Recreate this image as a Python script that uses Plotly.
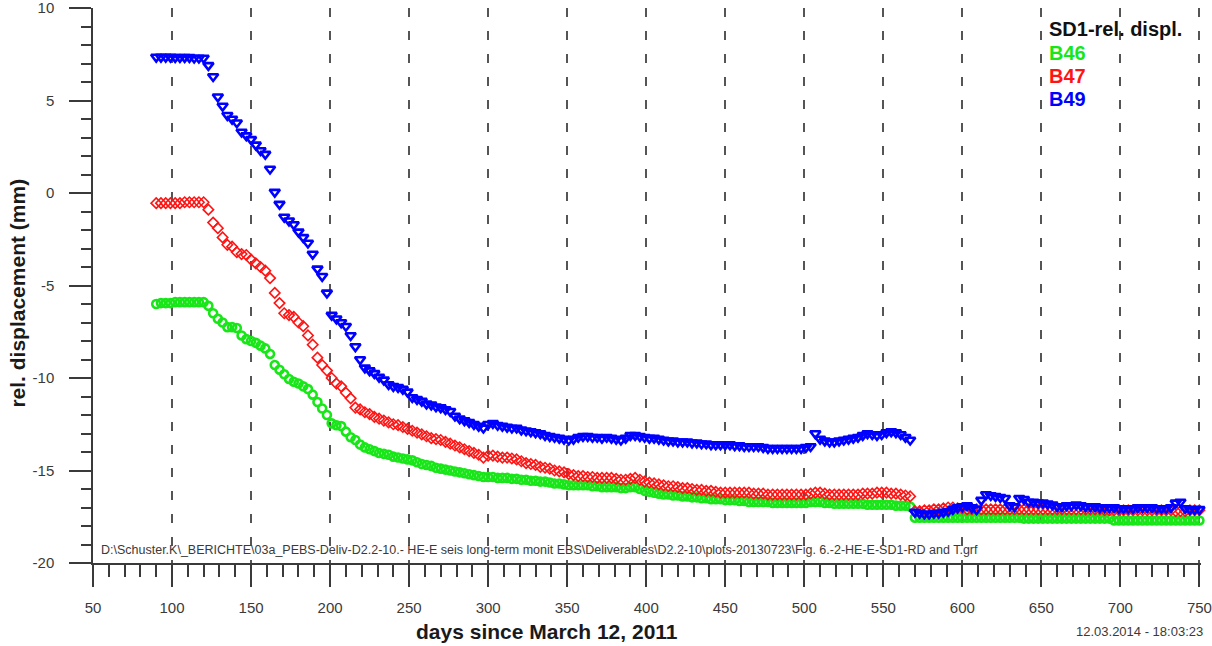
import plotly.graph_objects as go

# Measurement days (days since March 12, 2011), sampled every 3 days
DAYS = list(range(90, 751, 3))

# Relative displacement (mm) per borehole sensor
B46 = [
    -6.00, -5.95, -5.95, -5.95, -5.90, -5.90, -5.90, -5.90, -5.90, -5.90,
    -5.90, -6.10, -6.50, -6.80, -7.00, -7.25, -7.25, -7.30, -7.70, -7.90,
    -8.00, -8.10, -8.25, -8.40, -8.70, -9.30, -9.55, -9.80, -10.05, -10.20,
    -10.30, -10.45, -10.60, -10.90, -11.30, -11.65, -12.00, -12.45, -12.55, -12.60,
    -12.90, -13.20, -13.35, -13.60, -13.75, -13.85, -13.95, -14.05, -14.10, -14.15,
    -14.25, -14.30, -14.35, -14.40, -14.45, -14.55, -14.65, -14.70, -14.75, -14.85,
    -14.90, -14.95, -15.00, -15.05, -15.10, -15.15, -15.20, -15.25, -15.30, -15.35,
    -15.35, -15.35, -15.40, -15.40, -15.40, -15.45, -15.45, -15.50, -15.50, -15.55,
    -15.55, -15.60, -15.60, -15.65, -15.70, -15.70, -15.75, -15.80, -15.80, -15.80,
    -15.80, -15.80, -15.85, -15.85, -15.90, -15.90, -15.90, -15.90, -15.95, -15.95,
    -15.90, -15.90, -16.00, -16.10, -16.15, -16.20, -16.25, -16.30, -16.30, -16.35,
    -16.35, -16.40, -16.40, -16.45, -16.45, -16.50, -16.50, -16.55, -16.55, -16.55,
    -16.60, -16.60, -16.60, -16.65, -16.65, -16.70, -16.70, -16.70, -16.70, -16.70,
    -16.75, -16.75, -16.75, -16.75, -16.75, -16.75, -16.75, -16.75, -16.70, -16.70,
    -16.70, -16.75, -16.75, -16.80, -16.80, -16.80, -16.80, -16.80, -16.80, -16.80,
    -16.85, -16.85, -16.85, -16.85, -16.85, -16.85, -16.90, -16.90, -16.90, -16.95,
    -17.55, -17.55, -17.55, -17.55, -17.55, -17.55, -17.55, -17.55, -17.55, -17.55,
    -17.55, -17.55, -17.55, -17.55, -17.55, -17.55, -17.55, -17.55, -17.55, -17.55,
    -17.55, -17.55, -17.55, -17.60, -17.60, -17.60, -17.60, -17.60, -17.60, -17.60,
    -17.60, -17.60, -17.60, -17.60, -17.60, -17.60, -17.60, -17.60, -17.60, -17.60,
    -17.60, -17.60, -17.70, -17.70, -17.70, -17.70, -17.70, -17.70, -17.70, -17.70,
    -17.70, -17.70, -17.70, -17.70, -17.70, -17.70, -17.70, -17.70, -17.70, -17.70,
    -17.70,
]

B47 = [
    -0.55, -0.55, -0.55, -0.55, -0.55, -0.55, -0.50, -0.50, -0.50, -0.50,
    -0.50, -0.90, -1.60, -1.90, -2.40, -2.80, -2.90, -3.20, -3.30, -3.35,
    -3.60, -3.80, -4.00, -4.20, -4.60, -5.40, -5.95, -6.50, -6.60, -6.70,
    -7.00, -7.20, -7.70, -8.20, -8.90, -9.30, -9.60, -10.00, -10.30, -10.45,
    -10.80, -11.10, -11.60, -11.70, -11.85, -11.95, -12.10, -12.20, -12.30, -12.40,
    -12.50, -12.55, -12.65, -12.75, -12.85, -12.95, -13.05, -13.15, -13.25, -13.30,
    -13.35, -13.45, -13.55, -13.65, -13.75, -13.85, -13.95, -14.05, -14.15, -14.30,
    -14.20, -14.20, -14.25, -14.30, -14.30, -14.35, -14.40, -14.50, -14.60, -14.65,
    -14.70, -14.80, -14.85, -14.90, -15.00, -15.05, -15.10, -15.20, -15.25, -15.30,
    -15.30, -15.35, -15.35, -15.40, -15.40, -15.40, -15.40, -15.45, -15.50, -15.50,
    -15.45, -15.40, -15.50, -15.60, -15.65, -15.70, -15.75, -15.80, -15.85, -15.85,
    -15.90, -15.95, -15.95, -16.00, -16.05, -16.05, -16.10, -16.10, -16.15, -16.20,
    -16.20, -16.20, -16.20, -16.20, -16.20, -16.20, -16.25, -16.25, -16.25, -16.30,
    -16.30, -16.30, -16.30, -16.30, -16.30, -16.30, -16.30, -16.30, -16.25, -16.20,
    -16.20, -16.25, -16.30, -16.30, -16.30, -16.30, -16.30, -16.30, -16.30, -16.25,
    -16.25, -16.25, -16.20, -16.20, -16.20, -16.25, -16.25, -16.30, -16.35, -16.40,
    -17.20, -17.20, -17.15, -17.15, -17.10, -17.10, -17.05, -17.00, -17.00, -17.05,
    -17.05, -17.10, -17.10, -17.10, -17.10, -17.10, -17.10, -17.10, -17.10, -17.10,
    -17.10, -17.10, -17.10, -17.10, -17.10, -17.10, -17.10, -17.10, -17.10, -17.10,
    -17.10, -17.10, -17.10, -17.10, -17.10, -17.10, -17.10, -17.10, -17.10, -17.10,
    -17.15, -17.15, -17.15, -17.15, -17.15, -17.15, -17.15, -17.15, -17.15, -17.15,
    -17.15, -17.15, -17.15, -17.15, -17.15, -17.20, -17.20, -17.20, -17.15, -17.15,
    -17.15,
]

B49 = [
    7.35, 7.35, 7.35, 7.35, 7.33, 7.33, 7.33, 7.33, 7.30, 7.30,
    7.30, 6.90, 6.30, 5.20, 4.70, 4.20, 4.00, 3.80, 3.30, 3.10,
    2.90, 2.60, 2.30, 2.10, 1.30, 0.05, -0.60, -1.30, -1.50, -1.70,
    -2.10, -2.40, -2.70, -3.30, -4.10, -4.50, -5.40, -6.60, -6.80, -7.00,
    -7.20, -7.70, -8.30, -9.00, -9.45, -9.60, -9.75, -9.95, -10.10, -10.35,
    -10.45, -10.50, -10.60, -10.75, -11.05, -11.15, -11.25, -11.40, -11.45, -11.55,
    -11.60, -11.70, -11.80, -12.05, -12.20, -12.30, -12.40, -12.50, -12.60, -12.70,
    -12.50, -12.45, -12.55, -12.60, -12.65, -12.70, -12.70, -12.80, -12.85, -12.90,
    -12.95, -13.00, -13.10, -13.15, -13.20, -13.25, -13.30, -13.35, -13.30, -13.20,
    -13.15, -13.15, -13.20, -13.20, -13.25, -13.20, -13.25, -13.30, -13.35, -13.25,
    -13.10, -13.10, -13.15, -13.20, -13.25, -13.25, -13.30, -13.35, -13.40, -13.40,
    -13.45, -13.45, -13.45, -13.50, -13.50, -13.55, -13.55, -13.60, -13.60, -13.60,
    -13.60, -13.60, -13.65, -13.65, -13.70, -13.70, -13.70, -13.70, -13.75, -13.80,
    -13.80, -13.80, -13.80, -13.80, -13.80, -13.80, -13.80, -13.75, -13.70, -13.00,
    -13.30, -13.40, -13.45, -13.45, -13.40, -13.35, -13.30, -13.25, -13.20, -13.10,
    -13.00, -13.05, -13.10, -13.05, -12.95, -12.90, -12.95, -13.05, -13.20, -13.35,
    -17.25, -17.30, -17.35, -17.35, -17.30, -17.30, -17.25, -17.20, -17.10, -17.00,
    -16.95, -16.90, -17.00, -17.10, -16.60, -16.30, -16.35, -16.40, -16.45, -16.50,
    -16.90, -16.95, -16.50, -16.55, -16.70, -16.70, -16.75, -16.75, -16.80, -16.85,
    -16.95, -16.95, -16.90, -16.90, -16.85, -16.90, -16.95, -16.95, -16.95, -17.00,
    -17.00, -17.00, -17.00, -17.05, -17.05, -17.05, -17.05, -17.00, -17.00, -17.00,
    -17.00, -17.05, -17.05, -17.05, -17.00, -16.75, -16.70, -17.05, -17.10, -17.10,
    -17.10,
]

Y_TICKS = [-20, -15, -10, -5, 0, 5, 10]
Y_TICK_TEXT = ["-20", "-15", "-10", "-5", "0", "5", "10"]
X_TICKS = [50, 100, 150, 200, 250, 300, 350, 400, 450, 500, 550, 600, 650, 700, 750]

GREEN = "#19e619"
RED = "#ff1414"
BLUE = "#0000ff"
AXIS = "#3a3a3a"
FONT = "Arial, 'Liberation Sans', sans-serif"

fig = go.Figure()

fig.add_trace(go.Scatter(
    x=DAYS, y=B46, mode="markers", name="B46", cliponaxis=False,
    marker=dict(symbol="circle-open", size=8, color=GREEN, line=dict(width=2.6, color=GREEN)),
))
fig.add_trace(go.Scatter(
    x=DAYS, y=B47, mode="markers", name="B47", cliponaxis=False,
    marker=dict(symbol="diamond-open", size=8, color=RED, line=dict(width=1.6, color=RED)),
))
fig.add_trace(go.Scatter(
    x=DAYS, y=B49, mode="markers", name="B49", cliponaxis=False,
    marker=dict(symbol="triangle-down-open", size=9, color=BLUE, line=dict(width=2.6, color=BLUE)),
))

fig.update_layout(
    width=1212, height=646,
    margin=dict(l=93, r=10.5, t=8, b=83, autoexpand=False),
    paper_bgcolor="white", plot_bgcolor="white",
    showlegend=False,
    font=dict(family=FONT, color=AXIS),
    xaxis=dict(
        range=[50, 751], tickmode="array", tickvals=X_TICKS, automargin=False,
        showline=True, linecolor=AXIS, linewidth=1.5,
        ticks="outside", ticklen=22, tickwidth=1.5, tickcolor=AXIS,
        ticklabelstandoff=8, ticklabeloverflow="allow",
        tickfont=dict(size=15, color=AXIS),
        minor=dict(tickmode="linear", tick0=50, dtick=10, ticks="outside",
                   ticklen=12, tickwidth=1.5, tickcolor=AXIS, showgrid=False),
        showgrid=True, gridcolor="#555555", gridwidth=2, griddash="9px,14px",
        zeroline=False,
    ),
    xaxis2=dict(
        range=[50, 751], overlaying="x", anchor="y", side="bottom", automargin=False,
        tickmode="array", tickvals=X_TICKS,
        ticks="inside", ticklen=13, tickwidth=1.5, tickcolor=AXIS,
        showticklabels=False, showline=False, showgrid=False, zeroline=False,
    ),
    yaxis=dict(
        range=[-20, 10], tickmode="array", tickvals=Y_TICKS, ticktext=Y_TICK_TEXT,
        automargin=False,
        showline=True, linecolor=AXIS, linewidth=1.5,
        ticks="outside", ticklen=22, tickwidth=1.5, tickcolor=AXIS,
        ticklabelstandoff=12, ticklabeloverflow="allow",
        tickfont=dict(size=15, color=AXIS),
        minor=dict(tickmode="linear", tick0=-20, dtick=1, ticks="outside",
                   ticklen=10, tickwidth=1.5, tickcolor=AXIS, showgrid=False),
        showgrid=False, zeroline=False,
    ),
)

annotations = [
    # axis titles
    dict(text="<b>days since March 12, 2011</b>", xref="paper", yref="paper",
         x=0.41, y=-0.124, xanchor="center", yanchor="middle", showarrow=False,
         font=dict(size=21, color="#1a1a1a", family=FONT)),
    dict(text="<b>rel. displacement (mm)</b>", xref="paper", yref="paper",
         x=-0.0678, y=0.487, xanchor="center", yanchor="middle", textangle=-90,
         showarrow=False, font=dict(size=21, color="#1a1a1a", family=FONT)),
    # source file path and print stamp
    dict(text="D:\\Schuster.K\\_BERICHTE\\03a_PEBS-Deliv-D2.2-10.- HE-E seis long-term monit EBS"
              "\\Deliverables\\D2.2-10\\plots-20130723\\Fig. 6.-2-HE-E-SD1-RD and T.grf",
         xref="paper", yref="paper", x=(99 - 93) / 1108.5, y=(563 - 550) / 555,
         xanchor="left", yanchor="middle", showarrow=False,
         font=dict(size=12.5, color=AXIS, family=FONT)),
    dict(text="12.03.2014 - 18:03:23", xref="paper", yref="paper",
         x=(1206 - 93) / 1108.5, y=(563 - 631) / 555, xanchor="right", yanchor="middle",
         showarrow=False, font=dict(size=13, color=AXIS, family=FONT)),
]

# legend block drawn as coloured text
legend_rows = [
    ("SD1-rel. displ.", "#111111", 29),
    ("B46", GREEN, 53),
    ("B47", RED, 76),
    ("B49", BLUE, 99),
]
for label, color, py in legend_rows:
    annotations.append(dict(
        text=f"<b>{label}</b>", xref="paper", yref="paper",
        x=(1047 - 93) / 1108.5, y=(563 - py) / 555, xanchor="left", yanchor="middle",
        showarrow=False, font=dict(size=20, color=color, family=FONT),
    ))

fig.update_layout(annotations=annotations)

fig.write_html("out.html")
